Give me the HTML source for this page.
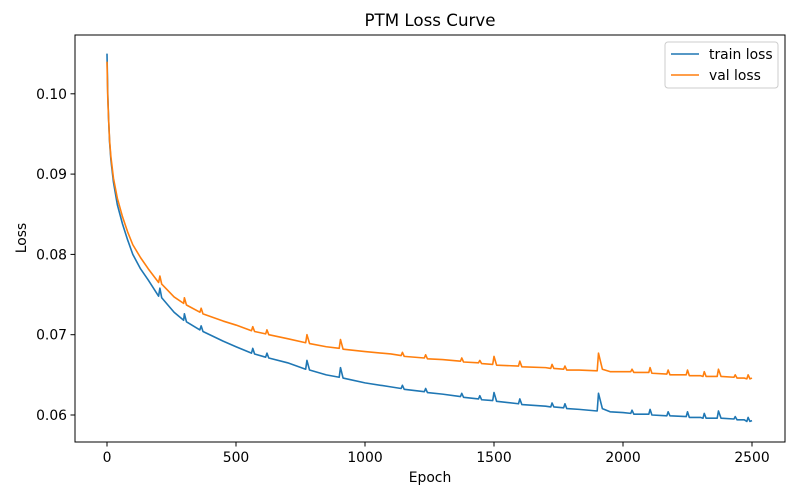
<!DOCTYPE html>
<html><head><meta charset="utf-8"><style>
html,body{margin:0;padding:0;background:#fff}
svg{display:block;font-family:"DejaVu Sans","Liberation Sans",sans-serif}
</style></head><body>
<svg id="chart" width="800" height="500" viewBox="0 0 800 500">
<text x="430" y="26" font-size="16.7" text-anchor="middle" fill="#000">PTM Loss Curve</text>
<g id="grid"></g>
<g id="lines"></g>
<rect x="75" y="35" width="710" height="407" fill="none" stroke="#000" stroke-width="1"/>
<text x="430" y="482" font-size="13.9" text-anchor="middle">Epoch</text>
<text transform="translate(26,238) rotate(-90)" font-size="13.9" text-anchor="middle">Loss</text>
<g>
<rect x="665" y="42" width="113" height="46" rx="3" fill="#fff" stroke="#ccc"/>
<line x1="671" y1="54" x2="699" y2="54" stroke="#1f77b4" stroke-width="1.5"/>
<text x="709" y="59" font-size="13.9">train loss</text>
<line x1="671" y1="75" x2="699" y2="75" stroke="#ff7f0e" stroke-width="1.5"/>
<text x="709" y="80" font-size="13.9">val loss</text>
</g>
</svg>
<script>
const epochs=[0,3,6,10,15,25,40,60,80,100,130,160,200,205,212,260,297,300,308,360,365,372,450,500,560,565,572,615,620,627,700,770,775,785,850,900,905,915,1000,1100,1140,1145,1152,1230,1235,1242,1300,1370,1375,1382,1440,1445,1452,1495,1500,1510,1595,1600,1608,1700,1720,1725,1732,1770,1775,1782,1830,1900,1905,1920,1950,2000,2030,2035,2042,2100,2105,2112,2170,2175,2182,2245,2250,2257,2300,2310,2315,2322,2365,2370,2380,2430,2435,2442,2470,2480,2485,2492,2500];
const trainLoss=[.1050,.1000,.0970,.0940,.0918,.0890,.0862,.0838,.0818,.0800,.0782,.0768,.0748,.0758,.0746,.0728,.0718,.0726,.0716,.0706,.0711,.0704,.0692,.0685,.0677,.0683,.0676,.0672,.0677,.0671,.0665,.0657,.0668,.0656,.0650,.0647,.0659,.0646,.0640,.0635,.0633,.0637,.0632,.0629,.0633,.0628,.0626,.0623,.0627,.0622,.0620,.0624,.0619,.0618,.0628,.0617,.0614,.0620,.0613,.0611,.0610,.0615,.0610,.0609,.0614,.0608,.0607,.0605,.0627,.0608,.0604,.0603,.0602,.0606,.0601,.0601,.0607,.0600,.0599,.0604,.0599,.0598,.0604,.0597,.0597,.0596,.0602,.0596,.0596,.0605,.0596,.0595,.0598,.0594,.0594,.0592,.0597,.0592,.0593];
const valLoss=[.1040,.0995,.0970,.0942,.0922,.0895,.0870,.0847,.0828,.0812,.0796,.0782,.0765,.0773,.0763,.0747,.0739,.0746,.0737,.0728,.0733,.0726,.0717,.0712,.0705,.0710,.0704,.0701,.0706,.0700,.0695,.0690,.0700,.0689,.0685,.0683,.0694,.0682,.0679,.0676,.0674,.0678,.0673,.0671,.0675,.0670,.0669,.0667,.0671,.0666,.0665,.0668,.0664,.0663,.0673,.0662,.0661,.0667,.0660,.0659,.0658,.0663,.0658,.0657,.0661,.0656,.0656,.0655,.0677,.0657,.0654,.0654,.0654,.0657,.0653,.0653,.0659,.0652,.0651,.0656,.0650,.0650,.0656,.0649,.0649,.0648,.0654,.0648,.0648,.0657,.0648,.0647,.0650,.0646,.0646,.0645,.0650,.0645,.0646];
const xTicks=[0,500,1000,1500,2000,2500];
const yTicks=[0.06,0.07,0.08,0.09,0.10];
const yTickLabels=["0.06","0.07","0.08","0.09","0.10"];

const NS="http://www.w3.org/2000/svg";
function xs(v){return 107+(v/2500)*645;}
function ys(v){return 415-(v-0.06)*8030;}
const grid=document.getElementById('grid');
const lines=document.getElementById('lines');
xTicks.forEach(t=>{
  const l=document.createElementNS(NS,'line');
  l.setAttribute('x1',xs(t));l.setAttribute('x2',xs(t));l.setAttribute('y1',442);l.setAttribute('y2',446.5);l.setAttribute('stroke','#000');
  
  
  grid.appendChild(l);
  const tx=document.createElementNS(NS,'text');
  tx.setAttribute('x',xs(t));tx.setAttribute('y',462);tx.setAttribute('font-size','13.9');tx.setAttribute('text-anchor','middle');
  tx.textContent=t;
  
  
  grid.appendChild(tx);
});
yTicks.forEach((t,i)=>{
  const l=document.createElementNS(NS,'line');
  l.setAttribute('x1',70.5);l.setAttribute('x2',75);l.setAttribute('y1',ys(t));l.setAttribute('y2',ys(t));l.setAttribute('stroke','#000');
  
  
  grid.appendChild(l);
  const tx=document.createElementNS(NS,'text');
  tx.setAttribute('x',67);tx.setAttribute('y',ys(t)+5);tx.setAttribute('font-size','13.9');tx.setAttribute('text-anchor','end');
  tx.textContent=yTickLabels[i];
  
  
  grid.appendChild(tx);
});
function drawSeries(vals,color,name){
  const p=document.createElementNS(NS,'polyline');
  p.setAttribute('points',vals.map((v,i)=>xs(epochs[i]).toFixed(2)+','+ys(v).toFixed(2)).join(' '));
  p.setAttribute('fill','none');p.setAttribute('stroke',color);p.setAttribute('stroke-width','1.6');p.setAttribute('stroke-linejoin','round');
  
  
  lines.appendChild(p);
}
drawSeries(trainLoss,'#1f77b4','train-loss-line');
drawSeries(valLoss,'#ff7f0e','val-loss-line');
</script>
</body></html>
